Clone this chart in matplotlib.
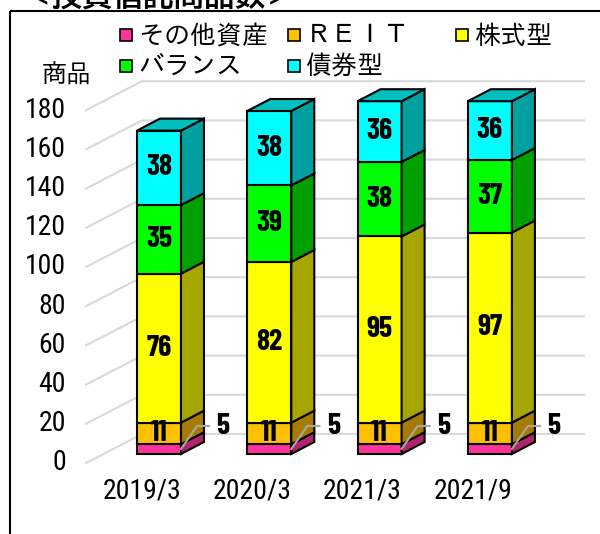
import matplotlib
matplotlib.use('Agg')
import matplotlib.pyplot as plt
from matplotlib.patches import Polygon, Rectangle

GOTHIC = ['IPAGothic', 'Noto Sans CJK JP', 'DejaVu Sans']
TITLE = ['BIZ UDGothic', 'Noto Sans CJK JP', 'DejaVu Sans']
AXIS_NUM = ['Roboto Condensed', 'Liberation Sans', 'DejaVu Sans']
BOLD_NUM = ['Barlow Condensed', 'Roboto Condensed', 'Liberation Sans', 'DejaVu Sans']

periods = ['2019/3', '2020/3', '2021/3', '2021/9']
series_names = ['その他資産', 'ＲＥＩＴ', '株式型', 'バランス', '債券型']
other = [5, 5, 5, 5]
reit = [11, 11, 11, 11]
stock = [76, 82, 95, 97]
balance = [35, 39, 38, 37]
bond = [38, 38, 36, 36]
y_ticks = [0, 20, 40, 60, 80, 100, 120, 140, 160, 180]

front_colors = ['#FF3399', '#FFC000', '#FFFF00', '#00FF00', '#00FFFF']
side_colors = ['#B0246B', '#A67C00', '#A6A600', '#00A000', '#00A0A0']
top_color = '#00BFBF'
grid_color = '#D9D9D9'

# scale of the chart on the 600x534 canvas
PX_X = 110.3
PX_Y = 1.96
X0 = 159
Y0 = 454
Y_MAX = 180
HALF = 22 / PX_X
DEPTH_X = 23 / PX_X
DEPTH_Y = 12 / PX_Y

fig = plt.figure(figsize=(6, 5.34), dpi=100, facecolor='white')
ax = fig.add_axes([0, 0, 1, 1])
ax.set_xlim(-X0 / PX_X, (600 - X0) / PX_X)
ax.set_ylim((Y0 - 534) / PX_Y, Y0 / PX_Y)
ax.axis('off')

# overlay in canvas pixels for frame, title and legend
ov = fig.add_axes([0, 0, 1, 1], zorder=5)
ov.set_xlim(0, 600)
ov.set_ylim(534, 0)
ov.axis('off')
ov.patch.set_alpha(0)

# walls: lines go from the front edge to the back, then along the back
wall_front_x = (86 - X0) / PX_X
wall_back_x = (142 - X0) / PX_X
wall_right_x = (584 - X0) / PX_X
wall_front_dy = -9 / PX_Y
wall_back_dy = 20 / PX_Y
tick_x = (66 - X0) / PX_X
for v in y_ticks:
    ax.plot([wall_front_x, wall_back_x, wall_right_x],
            [v + wall_front_dy, v + wall_back_dy, v + wall_back_dy],
            color=grid_color, lw=1.5, zorder=1, solid_joinstyle='miter')
    ax.text(tick_x, v + wall_front_dy, str(v), ha='right', va='center',
            fontsize=20, family=AXIS_NUM, color='black')

series = [other, reit, stock, balance, bond]
for i in range(len(periods)):
    base = 0
    for s, vals in enumerate(series):
        low = min(base, Y_MAX)
        high = min(base + vals[i], Y_MAX)
        l, r = i - HALF, i + HALF
        ax.add_patch(Polygon([(l, low), (r, low), (r, high), (l, high)], closed=True,
                             fc=front_colors[s], ec='black', lw=1.5, zorder=3))
        ax.add_patch(Polygon([(r, low), (r + DEPTH_X, low + DEPTH_Y), (r + DEPTH_X, high + DEPTH_Y), (r, high)],
                             closed=True, fc=side_colors[s], ec='black', lw=1.5, zorder=3))
        if s > 0:
            ax.text(i, (low + high) / 2, str(vals[i]), ha='center', va='center', fontsize=21.5,
                    fontweight='bold', family=BOLD_NUM, zorder=4)
        else:
            # small segment: label sits outside with a leader line
            lx = i + 64 / PX_X
            ly = (Y0 - 426) / PX_Y
            ax.plot([r, i + 38 / PX_X, i + 50 / PX_X], [(Y0 - 449) / PX_Y, ly, ly],
                    color='#A6A6A6', lw=1.5, zorder=4)
            ax.text(lx, ly, str(vals[i]), ha='center', va='center', fontsize=21.5,
                    fontweight='bold', family=BOLD_NUM, zorder=4)
        base += vals[i]
    top = min(base, Y_MAX)
    ax.add_patch(Polygon([(i - HALF, top), (i + HALF, top), (i + HALF + DEPTH_X, top + DEPTH_Y),
                          (i - HALF + DEPTH_X, top + DEPTH_Y)], closed=True, fc=top_color,
                         ec='black', lw=1.5, zorder=3))
    ax.text(i - 17 / PX_X, (Y0 - 491) / PX_Y, periods[i], ha='center', va='center', fontsize=20,
            family=AXIS_NUM, color='black')

# frame: only top and left are visible
ov.plot([10, 10], [534, 10.5], color='black', lw=1.5, solid_capstyle='butt')
ov.plot([10, 600], [10.5, 10.5], color='black', lw=1.5, solid_capstyle='butt')

ov.text(159, -5, '＜投資信託商品数＞', ha='center', va='center', fontsize=22, fontweight='bold',
        family=TITLE, clip_on=False)
ov.text(67, 73, '商品', ha='center', va='center', fontsize=18, family=GOTHIC)

legend_x = [120, 288, 456, 120, 288]
legend_y = [35, 35, 35, 66, 66]
for name, lx, ly, c in zip(series_names, legend_x, legend_y, front_colors):
    ov.add_patch(Rectangle((lx, ly - 6), 12, 12, fc=c, ec='black', lw=1.2))
    ov.text(lx + 18, ly - 1, name, ha='left', va='center', fontsize=18.7, family=GOTHIC)

fig.savefig('out.png', dpi=100, facecolor='white')
